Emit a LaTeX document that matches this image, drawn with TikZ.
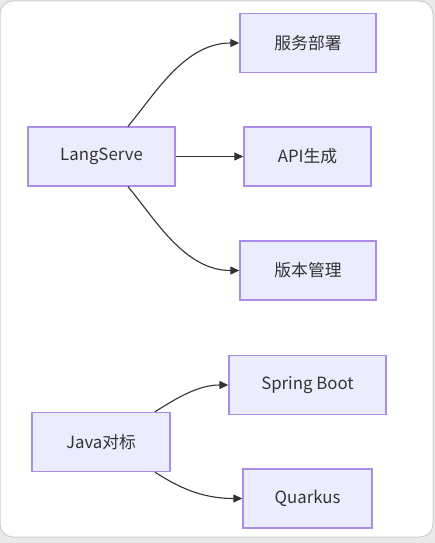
\documentclass[tikz,border=0pt]{standalone}
\usepackage{fontspec}
\setmainfont{Noto Sans CJK SC}
\usetikzlibrary{arrows.meta}
\definecolor{boxfill}{HTML}{ECECFF}
\definecolor{boxline}{HTML}{AB8CE8}
\definecolor{edgecol}{HTML}{333333}
\definecolor{cardline}{HTML}{CFCFCF}
\definecolor{outside}{HTML}{E9E9E9}

\begin{document}
\begin{tikzpicture}[x=1pt, y=-1pt,
        box/.style={draw=boxline, fill=boxfill, line width=1.4pt, minimum height=59pt, inner sep=0pt, text=edgecol, font=\fontsize{16.8}{20}\selectfont},
        link/.style={draw=edgecol, line width=1.1pt, -{Triangle[length=9pt,width=8pt]}}]
        \useasboundingbox (0,0) rectangle (435,543);
        \fill[outside] (0,0) rectangle (435,543);
        \draw[cardline, fill=white, line width=1pt, rounded corners=13pt] (0,1) rectangle (433,537);

        \node[box, minimum width=147pt] (lang) at (101.5,156.5) {LangServe};
        \node[box, minimum width=136pt] (deploy) at (308,43) {服务部署};
        \node[box, minimum width=127pt] (api) at (307.5,156.5) {API生成};
        \node[box, minimum width=136pt] (version) at (308,270.5) {版本管理};

        \node[box, minimum width=138pt] (java) at (101,442) {Java对标};
        \node[box, minimum width=157pt] (spring) at (307.5,385) {Spring Boot};
        \node[box, minimum width=129pt] (quarkus) at (307.5,498.5) {Quarkus};

        \draw[link] ([xshift=26.5pt]lang.north) .. controls +(27,-32) and +(-55,0) .. (deploy.west);
        \draw[link] (lang.east) to (api.west);
        \draw[link] ([xshift=26.5pt]lang.south) .. controls +(27,32) and +(-55,0) .. (version.west);

        \draw[link] ([xshift=54pt]java.north) .. controls +(22,-14) and +(-30,0) .. (spring.west);
        \draw[link] ([xshift=54pt]java.south) .. controls +(22,14) and +(-42,0) .. (quarkus.west);
    \end{tikzpicture}
\end{document}
